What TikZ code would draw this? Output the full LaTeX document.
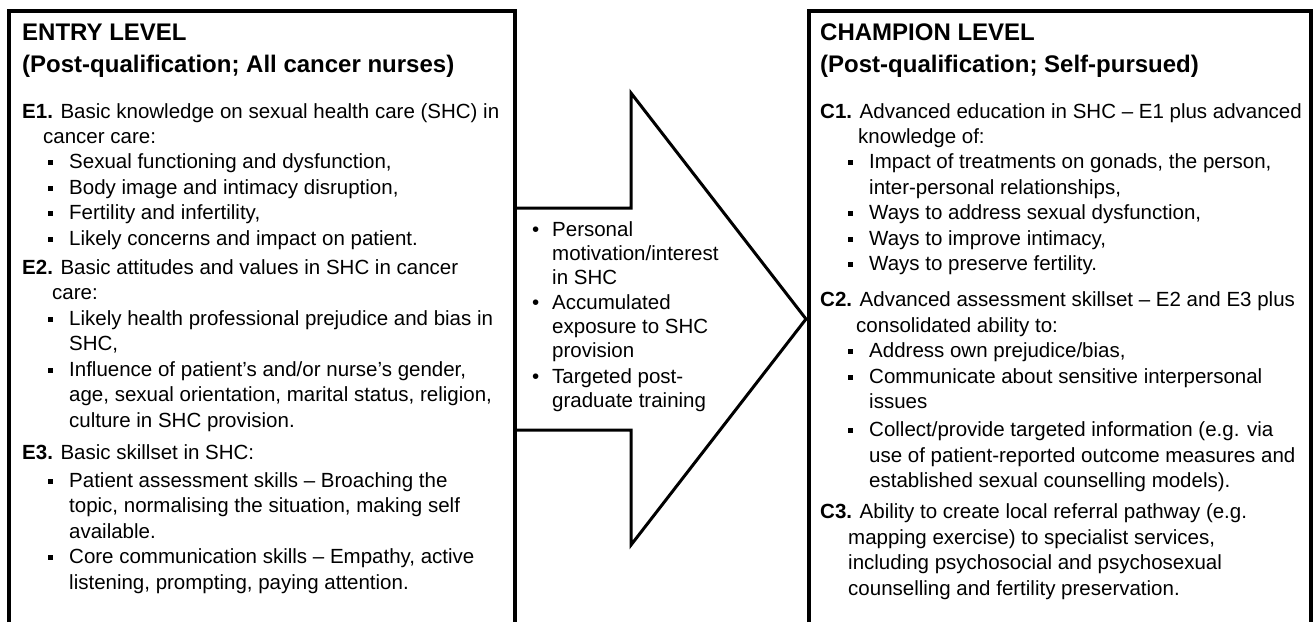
\documentclass[tikz,border=0pt]{standalone}
\usepackage{fontspec}
\setmainfont{Liberation Sans}
\usetikzlibrary{positioning}
\tikzstyle{txt}=[anchor=base west,inner sep=0,font=\fontsize{20.5}{24}\selectfont]
\tikzstyle{head}=[txt,font=\fontsize{24}{28}\selectfont\bfseries]
\tikzstyle{frame}=[line width=4pt]
\tikzstyle{bigarrow}=[line width=3pt]
\newcommand{\sqb}{\llap{\raisebox{3pt}{\rule{5.5pt}{5.5pt}}\hspace{16pt}}}
\newcommand{\dotb}{\llap{•\hspace{13pt}}}

\begin{document}
\begin{tikzpicture}[x=1pt,y=-1pt]
\useasboundingbox (0,0) rectangle (1314,622);
% the two level boxes, open at the bottom
\draw[frame] (9,622) -- (9,11) -- (515,11) -- (515,622);
\draw[frame] (809,622) -- (809,11) -- (1311,11) -- (1311,622);
% arrow between them
\draw[bigarrow] (515,208) -- (631,208) -- (631,93) -- (806,319)
  -- (631,545) -- (631,430) -- (515,430);

% entry level
\node[head] (eh1) at (22,40) {ENTRY LEVEL};
\node[head] (eh2) at (22,72) {(Post-qualification; All cancer nurses)};
\node[txt] (e1) at (22,118) {\textbf{E1.} Basic knowledge on sexual health care (SHC) in};
\node[txt] (e1a) at (43,143) {cancer care:};
\node[txt] (e1b) at (69,168) {\sqb Sexual functioning and dysfunction,};
\node[txt] (e1c) at (69,194) {\sqb Body image and intimacy disruption,};
\node[txt] (e1d) at (69,219) {\sqb Fertility and infertility,};
\node[txt] (e1e) at (69,245) {\sqb Likely concerns and impact on patient.};
\node[txt] (e2) at (22,274) {\textbf{E2.} Basic attitudes and values in SHC in cancer};
\node[txt] (e2a) at (52,299) {care:};
\node[txt] (e2b) at (69,325) {\sqb Likely health professional prejudice and bias in};
\node[txt] (e2c) at (69,350) {SHC,};
\node[txt] (e2d) at (69,376) {\sqb Influence of patient’s and/or nurse’s gender,};
\node[txt] (e2e) at (69,401) {age, sexual orientation, marital status, religion,};
\node[txt] (e2f) at (69,427) {culture in SHC provision.};
\node[txt] (e3) at (22,459) {\textbf{E3.} Basic skillset in SHC:};
\node[txt] (e3a) at (69,487) {\sqb Patient assessment skills – Broaching the};
\node[txt] (e3b) at (69,512) {topic, normalising the situation, making self};
\node[txt] (e3c) at (69,538) {available.};
\node[txt] (e3d) at (69,563) {\sqb Core communication skills – Empathy, active};
\node[txt] (e3e) at (69,589) {listening, prompting, paying attention.};

% what moves a nurse on
\node[txt] (m1) at (552,236) {\dotb Personal};
\node[txt] (m2) at (552,260) {motivation/interest};
\node[txt] (m3) at (552,284) {in SHC};
\node[txt] (m4) at (552,309) {\dotb Accumulated};
\node[txt] (m5) at (552,333) {exposure to SHC};
\node[txt] (m6) at (552,357) {provision};
\node[txt] (m7) at (552,383) {\dotb Targeted post-};
\node[txt] (m8) at (552,407) {graduate training};

% champion level
\node[head] (ch1) at (820,40) {CHAMPION LEVEL};
\node[head] (ch2) at (820,72) {(Post-qualification; Self-pursued)};
\node[txt] (c1) at (820,118) {\textbf{C1.} Advanced education in SHC – E1 plus advanced};
\node[txt] (c1a) at (858,143) {knowledge of:};
\node[txt] (c1b) at (869,168) {\sqb Impact of treatments on gonads, the person,};
\node[txt] (c1c) at (869,194) {inter-personal relationships,};
\node[txt] (c1d) at (869,219) {\sqb Ways to address sexual dysfunction,};
\node[txt] (c1e) at (869,245) {\sqb Ways to improve intimacy,};
\node[txt] (c1f) at (869,270) {\sqb Ways to preserve fertility.};
\node[txt] (c2) at (820,306) {\textbf{C2.} Advanced assessment skillset – E2 and E3 plus};
\node[txt] (c2a) at (856,332) {consolidated ability to:};
\node[txt] (c2b) at (869,357) {\sqb Address own prejudice/bias,};
\node[txt] (c2c) at (869,383) {\sqb Communicate about sensitive interpersonal};
\node[txt] (c2d) at (869,408) {issues};
\node[txt] (c2e) at (869,436) {\sqb Collect/provide targeted information (e.g. via};
\node[txt] (c2f) at (869,462) {use of patient-reported outcome measures and};
\node[txt] (c2g) at (869,487) {established sexual counselling models).};
\node[txt] (c3) at (820,518) {\textbf{C3.} Ability to create local referral pathway (e.g.};
\node[txt] (c3a) at (848,544) {mapping exercise) to specialist services,};
\node[txt] (c3b) at (848,569) {including psychosocial and psychosexual};
\node[txt] (c3c) at (848,595) {counselling and fertility preservation.};
\end{tikzpicture}
\end{document}
